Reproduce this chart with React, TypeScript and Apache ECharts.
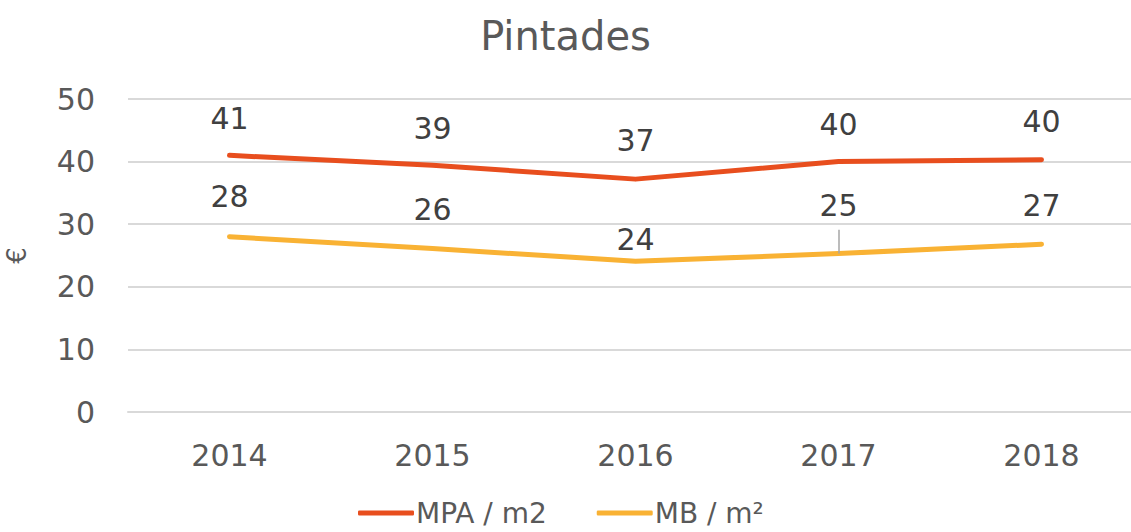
import React, { useEffect, useRef } from "react";
import * as echarts from "echarts";

const categories = ["2014", "2015", "2016", "2017", "2018"];
const mpaValues = [41.0, 39.4, 37.2, 40.0, 40.3];
const mbValues = [28.0, 26.1, 24.1, 25.3, 26.8];
const mpaLabelDistance = [22, 22, 24, 22, 23];
const mbLabelDistance = [25, 24, 7, 33, 24];
const leaderTop = 29.1;

const FONT = "DejaVu Sans";

export default function App() {
  const ref = useRef<HTMLDivElement>(null);
  useEffect(() => {
    if (!ref.current) return;
    const chart = echarts.init(ref.current, undefined, { renderer: "svg" });
    const mk = (vals: number[], dist: number[]) =>
      vals.map((v, i) => ({
        value: v,
        label: { distance: dist[i] },
      }));
    const labelStyle = {
      show: true,
      position: "top",
      fontFamily: FONT,
      fontSize: 30,
      color: "#404040",
      formatter: (p: any) => Math.round(p.value).toString(),
    };
    chart.setOption({
      animation: false,
      title: {
        text: "Pintades",
        left: "center",
        top: 11,
        textStyle: { fontFamily: FONT, fontSize: 40, fontWeight: "normal", color: "#595959" },
      },
      grid: {
        left: 128,
        right: -12,
        top: 99,
        bottom: 120,
        containLabel: false,
        outerBoundsMode: "none",
      },
      legend: {
        bottom: 5,
        left: 358,
        padding: 0,
        itemWidth: 56,
        itemHeight: 5,
        itemGap: 50,
        icon: "roundRect",
        textStyle: {
          fontFamily: FONT,
          fontSize: 28,
          lineHeight: 28,
          color: "#595959",
          padding: [0, 0, 0, -3],
        },
        data: ["MPA / m2", "MB / m²"],
      },
      xAxis: {
        type: "category",
        data: categories,
        boundaryGap: true,
        axisLine: { lineStyle: { color: "#D9D9D9", width: 2 } },
        axisTick: { show: false },
        axisLabel: { fontFamily: FONT, fontSize: 30, color: "#595959", margin: 28 },
      },
      yAxis: {
        type: "value",
        min: 0,
        max: 50,
        interval: 10,
        name: "€",
        nameLocation: "middle",
        nameGap: 98,
        nameRotate: 90,
        nameTextStyle: { fontFamily: FONT, fontSize: 26, color: "#595959" },
        axisLine: { show: false },
        axisTick: { show: false },
        splitLine: { lineStyle: { color: "#D9D9D9", width: 2 } },
        axisLabel: { fontFamily: FONT, fontSize: 30, color: "#595959", margin: 33 },
      },
      series: [
        {
          name: "MPA / m2",
          type: "line",
          data: mk(mpaValues, mpaLabelDistance),
          symbol: "circle",
          symbolSize: 0.1,
          showSymbol: true,
          color: "#E84E1E",
          lineStyle: { width: 5, color: "#E84E1E", cap: "round", join: "round" },
          label: labelStyle,
        },
        {
          name: "MB / m²",
          type: "line",
          data: mk(mbValues, mbLabelDistance),
          symbol: "circle",
          symbolSize: 0.1,
          showSymbol: true,
          color: "#F9B234",
          lineStyle: { width: 5, color: "#F9B234", cap: "round", join: "round" },
          label: labelStyle,
          markLine: {
            silent: true,
            symbol: "none",
            label: { show: false },
            lineStyle: { color: "#A6A6A6", width: 1.5, type: "solid" },
            data: [[{ coord: [categories[3], mbValues[3]] }, { coord: [categories[3], leaderTop] }]],
          },
        },
      ],
    });
    return () => chart.dispose();
  }, []);
  return (
    <div
      ref={ref}
      style={{ position: "absolute", left: 0, top: 0, width: 1131, height: 532 }}
    />
  );
}
